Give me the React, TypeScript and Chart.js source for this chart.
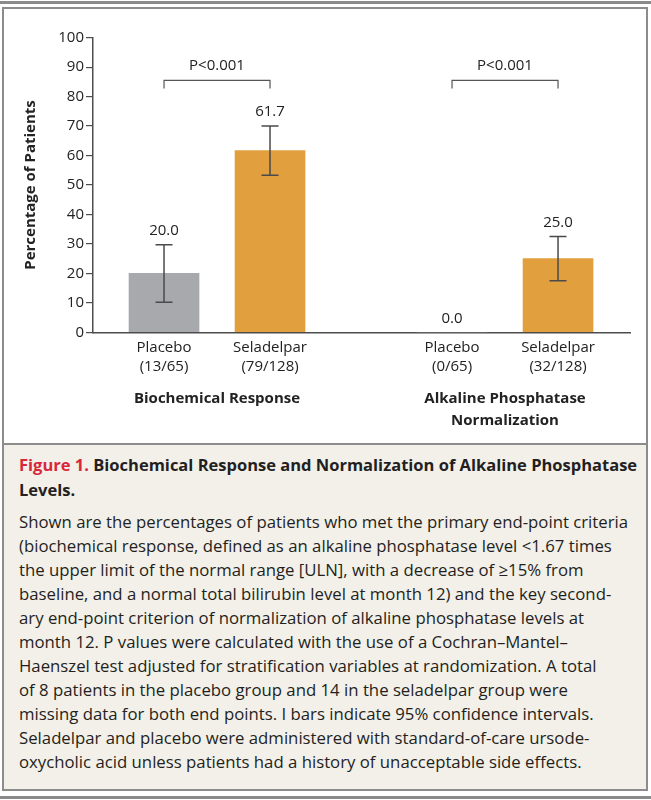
import React, { useEffect, useRef } from "react";
import { Chart, registerables } from "chart.js";

Chart.register(...registerables);

const categories = ["Placebo", "Seladelpar", "Placebo", "Seladelpar"];
const counts = ["(13/65)", "(79/128)", "(0/65)", "(32/128)"];
const values = [20.0, 61.7, 0.0, 25.0];
const ciLow = [10.2, 53.3, 0, 17.5];
const ciHigh = [29.7, 70.0, 0, 32.5];
const hasCI = [true, true, false, true];
const groupNames = [["Biochemical Response"], ["Alkaline Phosphatase", "Normalization"]];
const pValues = ["P<0.001", "P<0.001"];
const yTicks = [0, 10, 20, 30, 40, 50, 60, 70, 80, 90, 100];

// layout (not data)
const xPos = [0, 1, 2.717, 3.717];
const X_MIN = -0.67;
const X_MAX = 4.396;
const barColors = ["#a7a9ac", "#e29f3e", "#a7a9ac", "#e29f3e"];
const FONT = "'Open Sans', sans-serif";
const TEXT = "#222";

const captionTitle1 = "Biochemical Response and Normalization of Alkaline Phosphatase";
const captionTitle2 = "Levels.";
const captionLines = [
  "Shown are the percentages of patients who met the primary end-point criteria",
  "(biochemical response, defined as an alkaline phosphatase level <1.67 times",
  "the upper limit of the normal range [ULN], with a decrease of \u226515% from",
  "baseline, and a normal total bilirubin level at month 12) and the key second-",
  "ary end-point criterion of normalization of alkaline phosphatase levels at",
  "month 12. P values were calculated with the use of a Cochran\u2013Mantel\u2013",
  "Haenszel test adjusted for stratification variables at randomization. A total",
  "of 8 patients in the placebo group and 14 in the seladelpar group were",
  "missing data for both end points. I bars indicate 95% confidence intervals.",
  "Seladelpar and placebo were administered with standard-of-care ursode-",
  "oxycholic acid unless patients had a history of unacceptable side effects.",
];

const overlay = {
  id: "overlay",
  afterDatasetsDraw(chart: any) {
    const { ctx, scales, chartArea } = chart;
    const xs = scales.x;
    const ys = scales.y;
    ctx.save();
    // error bars
    ctx.strokeStyle = "#4a4a4a";
    ctx.lineWidth = 1.5;
    for (let i = 0; i < values.length; i++) {
      if (!hasCI[i]) continue;
      const x = xs.getPixelForValue(xPos[i]);
      const y1 = ys.getPixelForValue(ciLow[i]);
      const y2 = ys.getPixelForValue(ciHigh[i]);
      ctx.beginPath();
      ctx.moveTo(x, y1);
      ctx.lineTo(x, y2);
      ctx.moveTo(x - 8.5, y1);
      ctx.lineTo(x + 8.5, y1);
      ctx.moveTo(x - 8.5, y2);
      ctx.lineTo(x + 8.5, y2);
      ctx.stroke();
    }
    // value labels
    ctx.fillStyle = TEXT;
    ctx.font = `15px ${FONT}`;
    ctx.textAlign = "center";
    ctx.textBaseline = "middle";
    for (let i = 0; i < values.length; i++) {
      const x = xs.getPixelForValue(xPos[i]);
      const top = Math.max(values[i], hasCI[i] ? ciHigh[i] : values[i]);
      const y = ys.getPixelForValue(top) - 14;
      ctx.fillText(values[i].toFixed(1), x, y);
    }
    // brackets
    ctx.strokeStyle = "#555";
    ctx.lineWidth = 1.2;
    for (let g = 0; g < 2; g++) {
      const xa = xs.getPixelForValue(xPos[g * 2]);
      const xb = xs.getPixelForValue(xPos[g * 2 + 1]);
      const yb = ys.getPixelForValue(85.5);
      ctx.beginPath();
      ctx.moveTo(xa, yb + 8);
      ctx.lineTo(xa, yb);
      ctx.lineTo(xb, yb);
      ctx.lineTo(xb, yb + 8);
      ctx.stroke();
      ctx.fillText(pValues[g], (xa + xb) / 2, yb - 14.5);
    }
    // group labels
    ctx.font = `bold 15px ${FONT}`;
    for (let g = 0; g < 2; g++) {
      const xa = xs.getPixelForValue(xPos[g * 2]);
      const xb = xs.getPixelForValue(xPos[g * 2 + 1]);
      groupNames[g].forEach((line, k) => {
        ctx.fillText(line, (xa + xb) / 2, chartArea.bottom + 66 + k * 22);
      });
    }
    // y title
    ctx.translate(27, (chartArea.top + chartArea.bottom) / 2);
    ctx.rotate(-Math.PI / 2);
    ctx.fillText("Percentage of Patients", 0, 0);
    ctx.restore();
  },
};

function BarChart() {
  const ref = useRef<HTMLCanvasElement>(null);
  useEffect(() => {
    const chart = new Chart(ref.current!, {
      type: "bar",
      data: {
        datasets: [
          {
            data: values.map((v, i) => ({ x: xPos[i], y: v })),
            backgroundColor: barColors,
            borderWidth: 0,
            barThickness: 70,
          },
        ],
      },
      options: {
        animation: false,
        responsive: false,
        devicePixelRatio: 1,
        layout: { padding: { left: 0, right: 15, top: 28.7, bottom: 0 } },
        plugins: { legend: { display: false }, tooltip: { enabled: false } },
        scales: {
          x: {
            type: "linear",
            offset: false,
            min: X_MIN,
            max: X_MAX,
            afterBuildTicks: (s: any) => {
              s.ticks = xPos.map((v) => ({ value: v }));
            },
            afterFit: (s: any) => {
              s.height = 110.7;
            },
            grid: { display: false, drawTicks: false, offset: false },
            border: { display: true, color: "#4d4d4d", width: 1.5 },
            ticks: {
              autoSkip: false,
              maxRotation: 0,
              padding: 6,
              color: TEXT,
              font: { family: FONT, size: 15, lineHeight: 1.27 },
              callback: (v: any) => {
                const i = xPos.indexOf(Number(v));
                return i >= 0 ? [categories[i], counts[i]] : "";
              },
            },
          },
          y: {
            min: 0,
            max: 100,
            afterBuildTicks: (s: any) => {
              s.ticks = yTicks.map((v) => ({ value: v }));
            },
            afterFit: (s: any) => {
              s.width = 89;
            },
            grid: { drawOnChartArea: false, drawTicks: true, tickLength: 7, color: "#4d4d4d", lineWidth: 1.2 },
            border: { display: true, color: "#4d4d4d", width: 1.5 },
            ticks: {
              padding: 2,
              color: TEXT,
              font: { family: FONT, size: 15 },
            },
          },
        },
      },
      plugins: [overlay],
    });
    return () => chart.destroy();
  }, []);
  return <canvas ref={ref} width={641} height={434} style={{ display: "block" }} />;
}

export default function App() {
  useEffect(() => {
    document.body.style.margin = "0";
  }, []);
  return (
    <div style={{ position: "relative", width: 651, height: 800, fontFamily: FONT, background: "#fff" }}>
      <div style={{ position: "absolute", left: 0, top: 1, width: 651, height: 3, background: "#8a8a8a" }} />
      <div
        style={{
          position: "absolute",
          left: 2,
          top: 7,
          width: 646,
          height: 784,
          border: "2px solid #8c8c8c",
          boxSizing: "border-box",
          background: "#f3f0ea",
        }}
      />
      <div style={{ position: "absolute", left: 4, top: 9, width: 642, height: 434, background: "#fff" }}>
        <BarChart />
      </div>
      <div style={{ position: "absolute", left: 4, top: 443, width: 642, height: 2, background: "#8c8c8c" }} />
      <div style={{ position: "absolute", left: 19, top: 452, color: "#231f20", whiteSpace: "nowrap" }}>
        <div style={{ fontWeight: 700, fontSize: 16.5, lineHeight: "25px" }}>
          <span style={{ color: "#d9273a" }}>Figure 1.</span> {captionTitle1}
        </div>
        <div style={{ fontWeight: 700, fontSize: 16.5, lineHeight: "25px" }}>{captionTitle2}</div>
        <div style={{ height: 8 }} />
        {captionLines.map((l, i) => (
          <div key={i} style={{ fontSize: 16.75, lineHeight: "24px" }}>
            {l}
          </div>
        ))}
      </div>
      <div style={{ position: "absolute", left: 0, top: 796, width: 651, height: 3, background: "#8a8a8a" }} />
    </div>
  );
}
